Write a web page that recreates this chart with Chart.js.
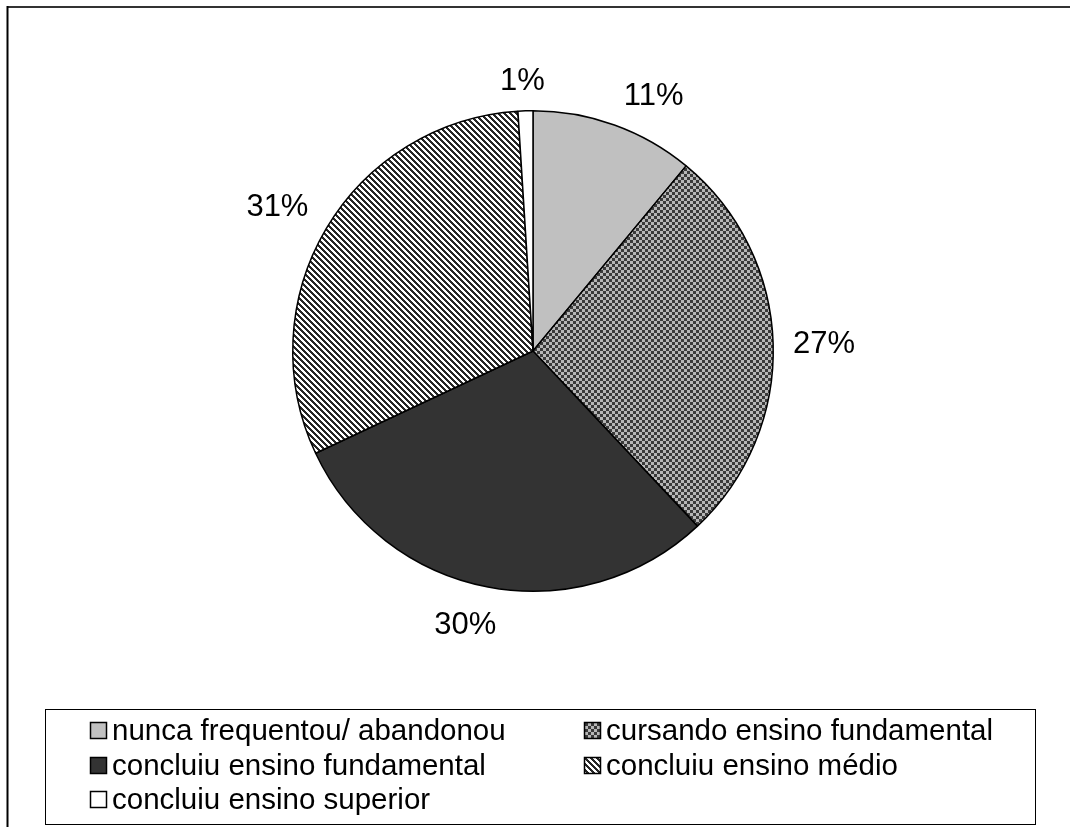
<!DOCTYPE html>
<html>
<head>
<meta charset="utf-8">
<script src="https://cdn.jsdelivr.net/npm/chart.js@4/dist/chart.umd.min.js"></script>
<style>
  html, body { margin: 0; padding: 0; background: #fff; }
  #wrap { width: 1070px; height: 827px; position: relative; }
</style>
</head>
<body>
<div id="wrap"><canvas id="c" width="1070" height="827"></canvas></div>
<script>
// Escolaridade: categorias e percentuais
const categories = [
  'nunca frequentou/ abandonou',
  'cursando ensino fundamental',
  'concluiu ensino fundamental',
  'concluiu ensino médio',
  'concluiu ensino superior'
];
const percentages = [11, 27, 30, 31, 1];

const FONT = '"Liberation Sans", Arial, Helvetica, sans-serif';

const ctx = document.getElementById('c').getContext('2d');

// Texturas de preenchimento (xadrez e listras diagonais)
const checker = ctx.createPattern((() => {
  const cv = document.createElement('canvas');
  cv.width = 6; cv.height = 6;
  const g = cv.getContext('2d');
  g.fillStyle = '#b6b6b6'; g.fillRect(0, 0, 6, 6);
  g.fillStyle = '#3a3a3a'; g.fillRect(0, 0, 3, 3); g.fillRect(3, 3, 3, 3);
  return cv;
})(), 'repeat');
const stripes = ctx.createPattern((() => {
  const cv = document.createElement('canvas');
  cv.width = 6; cv.height = 6;
  const g = cv.getContext('2d');
  g.fillStyle = '#ffffff'; g.fillRect(0, 0, 6, 6);
  g.fillStyle = '#262626';
  for (let y = 0; y < 6; y++) for (let x = 0; x < 6; x++) {
    if ((((x - y) % 6) + 6) % 6 < 3) g.fillRect(x, y, 1, 1);
  }
  return cv;
})(), 'repeat');

const fills = ['#c0c0c0', checker, '#333333', stripes, '#ffffff'];

// Moldura externa e fundo branco
const framePlugin = {
  id: 'frame',
  beforeDraw(chart) {
    const c = chart.ctx;
    c.save();
    c.fillStyle = '#fff';
    c.fillRect(0, 0, chart.width, chart.height);
    c.strokeStyle = '#333';
    c.lineWidth = 2;
    c.beginPath();
    c.moveTo(7, 7); c.lineTo(chart.width, 7);
    c.stroke();
    c.strokeStyle = '#000';
    c.beginPath();
    c.moveTo(7.5, 6); c.lineTo(7.5, chart.height);
    c.stroke();
    c.restore();
  }
};

// Rótulos percentuais fora das fatias
const labelPlugin = {
  id: 'outsideLabels',
  afterDatasetsDraw(chart) {
    const c = chart.ctx;
    const meta = chart.getDatasetMeta(0);
    const values = chart.data.datasets[0].data;
    c.save();
    c.font = '31px ' + FONT;
    c.fillStyle = '#000';
    c.textAlign = 'center';
    c.textBaseline = 'middle';
    const clamp = v => Math.max(-1, Math.min(1, v));
    meta.data.forEach((arc, i) => {
      const p = arc.getProps(['x', 'y', 'startAngle', 'endAngle', 'outerRadius'], true);
      const mid = (p.startAngle + p.endAngle) / 2;
      const cs = Math.cos(mid), sn = Math.sin(mid);
      const r = p.outerRadius + 16;
      const text = values[i] + '%';
      const hw = c.measureText(text).width / 2 + 4;
      const hh = 16;
      const x = p.x + r * cs + hw * clamp(cs * 3);
      const y = p.y + r * sn + hh * clamp(sn * 3) + 3 + 4 * Math.max(0, sn);
      c.fillText(text, x, y);
    });
    c.restore();
  }
};

// Legenda em duas colunas com moldura
const legendPlugin = {
  id: 'boxLegend',
  afterDraw(chart) {
    const c = chart.ctx;
    const ds = chart.data.datasets[0];
    c.save();
    c.strokeStyle = '#000';
    c.lineWidth = 1;
    c.strokeRect(45.5, 709.5, 990, 115);
    c.font = '29.5px ' + FONT;
    c.textBaseline = 'middle';
    c.textAlign = 'left';
    const cols = [90, 584];
    const rows = [731, 766, 800];
    chart.data.labels.forEach((lab, i) => {
      const bx = cols[i % 2], cy = rows[Math.floor(i / 2)];
      c.fillStyle = ds.backgroundColor[i];
      c.fillRect(bx, cy - 9, 17, 17);
      c.strokeStyle = '#000';
      c.lineWidth = 1.5;
      c.strokeRect(bx + 0.5, cy - 8.5, 16, 16);
      c.fillStyle = '#000';
      c.fillText(lab, bx + 22, cy + 1);
    });
    c.restore();
  }
};

new Chart(ctx, {
  type: 'pie',
  data: {
    labels: categories,
    datasets: [{
      data: percentages,
      backgroundColor: fills,
      borderColor: '#000',
      borderWidth: 1.5
    }]
  },
  options: {
    responsive: false,
    devicePixelRatio: 1,
    animation: false,
    layout: { padding: { top: 110, bottom: 235, left: 292, right: 296 } },
    plugins: {
      legend: { display: false },
      tooltip: { enabled: false }
    }
  },
  plugins: [framePlugin, labelPlugin, legendPlugin]
});
</script>
</body>
</html>
